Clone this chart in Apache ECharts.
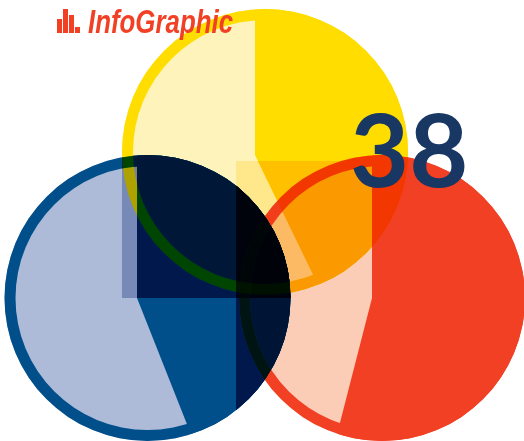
<!DOCTYPE html>
<html>
<head>
<meta charset="utf-8">
<style>
html,body{margin:0;padding:0;background:#fff;overflow:hidden}
#chart{width:524px;height:441px;background:#fff;isolation:isolate}
</style>
<script src="https://cdn.jsdelivr.net/npm/echarts@6/dist/echarts.min.js"></script>
</head>
<body>
<div id="chart"></div>
<script>
const sliceNames = ['Share', 'Rest'];
const blueValues = [44, 56];
const yellowValues = [42.8, 57.2];
const redValues = [54, 46];
const titleText = 'InfoGraphic';
const bigNumber = '38';

const R = 143, r = 132;
const groups = [
  {values: blueValues,   c: [147.5, 298], apex: [137, 298], full: '#004F8A', light: '#AEBBD8'},
  {values: yellowValues, c: [265, 152],   apex: [255, 155], full: '#FFDD00', light: '#FFF3BC',
   haze: {x: 122, y: 9, width: 191, height: 289}},
  {values: redValues,    c: [382, 298],   apex: [372, 298], full: '#F24024', light: '#FBCDB6',
   haze: {x: 236, y: 161, width: 136, height: 273}}
];

const base = {type: 'pie', silent: true, label: {show: false}, labelLine: {show: false},
  animation: false, startAngle: 90, emphasis: {disabled: true}};
function total(v) { return v.reduce((a, b) => a + b, 0); }

const series = [], graphic = [];
const layerBlend = [];
let level = 0;
groups.forEach(g => {
  if (g.haze) {
    // darkened box: squares what is beneath it, except under this pie's own rim
    graphic.push({type: 'rect', zlevel: level, z: 1, silent: true, shape: g.haze, style: {fill: '#000'}});
    series.push(Object.assign({}, base, {zlevel: level, z: 2, center: g.c, radius: [r, R],
      blendMode: 'destination-out', itemStyle: {color: '#000'}, data: [total(g.values)]}));
    layerBlend[level] = 'soft-light';
    level++;
  }
  series.push(Object.assign({}, base, {zlevel: level, z: 2, center: g.c, radius: R,
    itemStyle: {color: g.full}, data: [total(g.values)]}));
  series.push(Object.assign({}, base, {zlevel: level, z: 3, center: g.apex, radius: 175,
    blendMode: 'source-atop',
    data: g.values.map((v, i) => ({name: sliceNames[i], value: v,
      itemStyle: {color: i === 0 ? g.full : g.light}}))}));
  series.push(Object.assign({}, base, {zlevel: level, z: 4, center: g.c, radius: [r, R],
    itemStyle: {color: g.full}, data: [total(g.values)]}));
  layerBlend[level] = 'multiply';
  level++;
});

// logo bars
const iconBars = [[57, 19, 5, 14], [63, 9, 5, 24], [69, 15, 5, 18], [75, 27, 5, 6]];
iconBars.forEach(b => graphic.push({type: 'rect', zlevel: level, z: 5, silent: true,
  shape: {x: b[0], y: b[1], width: b[2], height: b[3]}, style: {fill: '#F24024'}}));
graphic.push({type: 'text', zlevel: level, z: 6, silent: true, x: 88, y: 7, scaleX: 0.76,
  style: {text: titleText, fontFamily: '"Liberation Sans"', fontStyle: 'italic', fontWeight: 'bold', fontSize: 34, fill: '#F24024'}});
graphic.push({type: 'text', zlevel: level, z: 6, silent: true, x: 350, y: 103,
  style: {text: bigNumber, fontFamily: 'Lato', fontWeight: 'bold', fontSize: 102, fill: '#183763'}});

const chart = echarts.init(document.getElementById('chart'), null, {renderer: 'canvas', width: 524, height: 441});
chart.setOption({
  animation: false,
  backgroundColor: 'transparent',
  graphic: graphic,
  series: series
});
chart.getDom().querySelectorAll('canvas').forEach((cv, i) => {
  if (layerBlend[i]) cv.style.mixBlendMode = layerBlend[i];
});
</script>
</body>
</html>
